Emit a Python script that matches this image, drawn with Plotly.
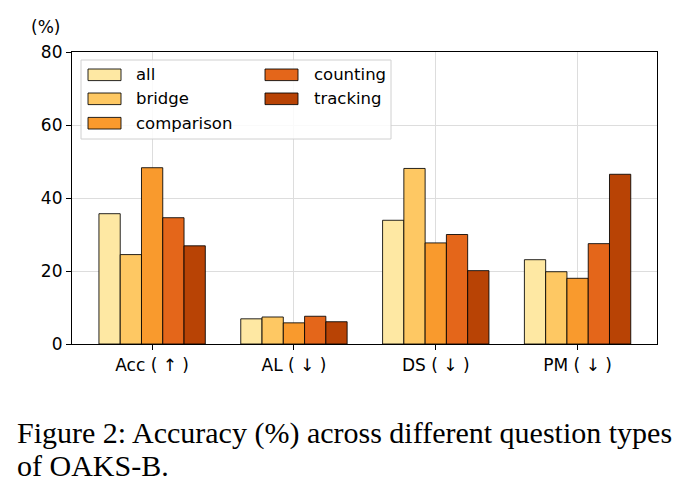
import plotly.graph_objects as go

categories = ["Acc ( ↑ )", "AL ( ↓ )", "DS ( ↓ )", "PM ( ↓ )"]
series_names = ["all", "bridge", "comparison", "counting", "tracking"]
values_all = [35.7, 6.9, 33.9, 23.1]
values_bridge = [24.5, 7.4, 48.1, 19.8]
values_comparison = [48.3, 5.8, 27.7, 18.0]
values_counting = [34.6, 7.6, 30.0, 27.5]
values_tracking = [26.9, 6.1, 20.1, 46.5]
series_values = [values_all, values_bridge, values_comparison, values_counting, values_tracking]
colors = ["#FEE8A3", "#FEC863", "#F99A2D", "#E4661A", "#B84305"]
y_ticks = [0, 20, 40, 60, 80]

W, H = 686, 502
L, R, T, B = 72, 29, 52, 158

fig = go.Figure()
for name, vals, col in zip(series_names, series_values, colors):
    fig.add_trace(go.Bar(
        x=categories, y=vals, name=name,
        marker=dict(color=col, line=dict(color="rgba(0,0,0,0.85)", width=1)),
        showlegend=False,
    ))

fig.update_layout(
    width=W, height=H,
    margin=dict(l=L, r=R, t=T, b=B),
    barmode="group", bargap=0.25, bargroupgap=0,
    plot_bgcolor="white", paper_bgcolor="white",
    font=dict(family="DejaVu Sans", size=16.5, color="black"),
)
fig.update_xaxes(
    range=[-0.565, 3.56], showgrid=True, gridcolor="#dddddd", gridwidth=1,
    showline=True, linecolor="black", linewidth=1.2, mirror=True,
    ticks="outside", ticklen=5, tickcolor="black", tickfont=dict(size=17),
)
fig.update_yaxes(
    range=[0, 80], tickvals=y_ticks, showgrid=True, gridcolor="#dddddd", gridwidth=1,
    showline=True, linecolor="black", linewidth=1.2, mirror=True, zeroline=False,
    ticks="outside", ticklen=5, tickcolor="black", tickfont=dict(size=17),
)

pw, ph = W - L - R, H - T - B
def pxp(x):
    return (x - L) / pw
def pyp(y):
    return 1 - (y - T) / ph

shapes = []
annotations = []
# legend box
shapes.append(dict(type="rect", xref="paper", yref="paper",
                   x0=pxp(81), x1=pxp(391), y0=pyp(139), y1=pyp(60),
                   line=dict(color="#d0d0d0", width=1), fillcolor="rgba(255,255,255,0.85)",
                   layer="above"))

row_y = [74.8, 98.8, 123.2]
positions = [(0, 0), (0, 1), (0, 2), (1, 0), (1, 1)]
col_sw = [88, 265]
col_tx = [134, 312]
for (c, r), name, col in zip(positions, series_names, colors):
    yc = row_y[r]
    shapes.append(dict(type="rect", xref="paper", yref="paper",
                       x0=pxp(col_sw[c]), x1=pxp(col_sw[c] + 33),
                       y0=pyp(yc + 5.8), y1=pyp(yc - 5.8),
                       line=dict(color="rgba(0,0,0,0.85)", width=1), fillcolor=col, layer="above"))
    annotations.append(dict(xref="paper", yref="paper", x=pxp(col_tx[c]), y=pyp(yc),
                            text=name, showarrow=False, xanchor="left", yanchor="middle",
                            font=dict(size=16.5, family="DejaVu Sans", color="black")))

annotations.append(dict(xref="paper", yref="paper", x=pxp(45), y=pyp(27), text="(%)",
                        showarrow=False, xanchor="center", yanchor="middle",
                        font=dict(size=17, family="DejaVu Sans")))
annotations.append(dict(xref="paper", yref="paper", x=pxp(15), y=pyp(433),
                        text="Figure 2: Accuracy (%) across different question types",
                        showarrow=False, xanchor="left", yanchor="middle",
                        font=dict(size=30, family="Liberation Serif", color="black")))
annotations.append(dict(xref="paper", yref="paper", x=pxp(15), y=pyp(466),
                        text="of OAKS-B.",
                        showarrow=False, xanchor="left", yanchor="middle",
                        font=dict(size=30, family="Liberation Serif", color="black")))

fig.update_layout(shapes=shapes, annotations=annotations)
fig.write_html("out.html")
